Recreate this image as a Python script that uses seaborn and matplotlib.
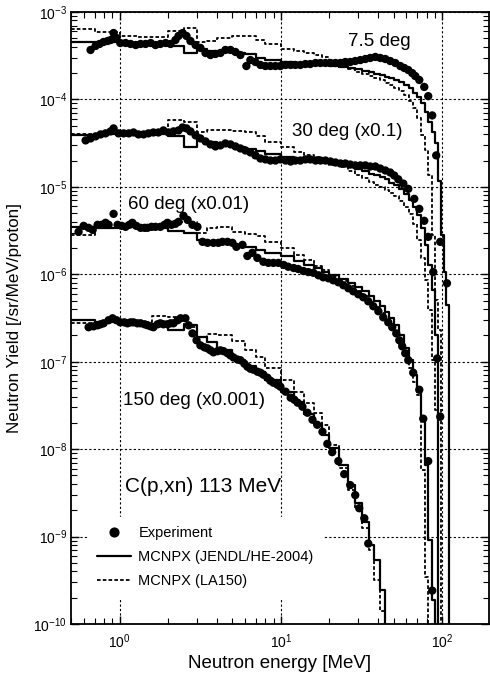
import numpy as np
import pandas as pd
import matplotlib
matplotlib.use('Agg')
import matplotlib.pyplot as plt
from matplotlib.lines import Line2D
from matplotlib.ticker import LogLocator, NullFormatter
import seaborn as sns

# Experiment data (already scaled by the factors shown in the labels)
e_exp_7p5 = [0.661, 0.710, 0.752, 0.796, 0.843, 0.880, 0.918, 0.958, 1.01, 1.09,
             1.17, 1.26, 1.35, 1.45, 1.56, 1.67, 1.79, 1.93, 2.07, 2.22,
             2.32, 2.46, 2.60, 2.75, 2.96, 3.17, 3.41, 3.66, 3.93, 4.22,
             4.53, 4.87, 5.23, 5.61, 6.11, 6.47, 6.95, 7.47, 8.02, 8.61,
             9.25, 9.93, 10.7, 11.5, 12.3, 13.2, 14.2, 15.2, 16.4, 17.6,
             18.9, 20.3, 21.8, 23.4, 25.1, 26.9, 28.9, 31.1, 33.4, 35.8,
             38.5, 41.3, 44.4, 47.6, 51.2, 55.0, 58.2, 61.6, 65.2, 68.1,
             72.1, 77.4, 81.9, 86.7, 91.8, 97.2, 107]
y_exp_7p5 = [3.68e-4, 4.09e-4, 4.31e-4, 4.54e-4, 4.66e-4, 4.78e-4, 5.75e-4, 5.04e-4, 4.42e-4, 4.42e-4,
             4.31e-4, 4.19e-4, 4.31e-4, 4.31e-4, 4.42e-4, 4.19e-4, 4.31e-4, 4.42e-4, 4.31e-4, 4.78e-4,
             5.32e-4, 5.75e-4, 5.32e-4, 4.66e-4, 4.19e-4, 3.88e-4, 3.40e-4, 3.22e-4, 3.31e-4, 3.40e-4,
             3.68e-4, 3.68e-4, 3.49e-4, 3.22e-4, 2.41e-4, 2.82e-4, 2.68e-4, 2.48e-4, 2.41e-4, 2.41e-4,
             2.41e-4, 2.41e-4, 2.48e-4, 2.48e-4, 2.48e-4, 2.48e-4, 2.54e-4, 2.54e-4, 2.61e-4, 2.61e-4,
             2.61e-4, 2.61e-4, 2.61e-4, 2.61e-4, 2.68e-4, 2.68e-4, 2.75e-4, 2.82e-4, 2.90e-4, 2.98e-4,
             3.06e-4, 2.98e-4, 2.90e-4, 2.75e-4, 2.61e-4, 2.41e-4, 2.29e-4, 2.17e-4, 2.00e-4, 1.85e-4,
             1.67e-4, 1.39e-4, 1.09e-4, 6.56e-5, 2.29e-5, 2.35e-6, 7.89e-7]

e_exp_30 = [0.616, 0.661, 0.710, 0.763, 0.819, 0.880, 0.918, 0.986, 1.06, 1.14,
            1.22, 1.31, 1.41, 1.51, 1.62, 1.74, 1.87, 2.01, 2.16, 2.32,
            2.46, 2.60, 2.75, 2.96, 3.17, 3.41, 3.66, 3.93, 4.22, 4.53,
            4.87, 5.23, 5.61, 6.03, 6.47, 6.95, 7.47, 8.02, 8.61, 9.25,
            9.93, 10.7, 11.5, 12.3, 13.2, 14.2, 15.2, 16.4, 17.6, 18.9,
            20.3, 21.8, 23.4, 25.1, 26.9, 28.9, 31.1, 33.4, 35.8, 38.5,
            41.3, 44.4, 47.6, 50.4, 53.4, 57.4, 61.6, 67.1, 72.1, 77.4,
            81.9, 88.0, 93.1, 97.2]
y_exp_30 = [3.40e-5, 3.58e-5, 3.78e-5, 3.98e-5, 4.09e-5, 4.31e-5, 4.66e-5, 4.09e-5, 4.09e-5, 4.09e-5,
            4.19e-5, 3.98e-5, 3.98e-5, 4.09e-5, 4.19e-5, 4.19e-5, 4.42e-5, 4.19e-5, 4.31e-5, 4.42e-5,
            4.78e-5, 4.66e-5, 4.31e-5, 3.88e-5, 3.58e-5, 3.31e-5, 3.06e-5, 2.90e-5, 2.98e-5, 3.14e-5,
            3.06e-5, 2.90e-5, 2.75e-5, 2.61e-5, 2.48e-5, 2.29e-5, 2.11e-5, 2.06e-5, 2.00e-5, 2.00e-5,
            2.06e-5, 2.00e-5, 1.95e-5, 2.00e-5, 2.00e-5, 2.06e-5, 2.06e-5, 2.00e-5, 2.00e-5, 2.00e-5,
            1.95e-5, 1.90e-5, 1.85e-5, 1.85e-5, 1.80e-5, 1.76e-5, 1.76e-5, 1.76e-5, 1.71e-5, 1.71e-5,
            1.62e-5, 1.54e-5, 1.46e-5, 1.35e-5, 1.22e-5, 1.09e-5, 9.49e-6, 7.29e-6, 5.60e-6, 4.09e-6,
            2.68e-6, 1.06e-6, 1.09e-7, 2.35e-8]

e_exp_60 = [0.557, 0.599, 0.643, 0.681, 0.731, 0.774, 0.819, 0.855, 0.918, 0.972,
            1.03, 1.09, 1.15, 1.20, 1.27, 1.35, 1.43, 1.49, 1.58, 1.67,
            1.79, 1.90, 1.98, 2.10, 2.22, 2.32, 2.49, 2.64, 2.83, 3.04,
            3.27, 3.51, 3.82, 4.10, 4.34, 4.67, 5.01, 5.30, 5.78, 6.20,
            6.66, 7.15, 7.79, 8.37, 8.99, 9.65, 10.4, 11.1, 12.0, 12.8,
            13.8, 14.8, 15.9, 17.1, 18.3, 19.7, 21.1, 22.7, 24.4, 26.2,
            28.1, 30.2, 32.4, 34.8, 37.4, 40.2, 43.1, 46.3, 49.0, 51.9,
            54.2, 56.5, 59.0, 61.6, 66.1, 72.1, 76.3, 81.9, 86.7]
y_exp_60 = [3.06e-6, 3.58e-6, 3.40e-6, 3.22e-6, 3.68e-6, 3.68e-6, 3.88e-6, 3.68e-6, 4.91e-6, 3.68e-6,
            3.58e-6, 3.49e-6, 3.68e-6, 3.88e-6, 3.58e-6, 3.40e-6, 3.40e-6, 3.40e-6, 3.49e-6, 3.49e-6,
            3.49e-6, 3.68e-6, 3.88e-6, 3.68e-6, 3.78e-6, 3.98e-6, 4.66e-6, 4.19e-6, 3.68e-6, 3.49e-6,
            2.35e-6, 2.29e-6, 2.29e-6, 2.29e-6, 2.35e-6, 2.35e-6, 2.29e-6, 2.06e-6, 2.17e-6, 1.62e-6,
            1.76e-6, 1.54e-6, 1.39e-6, 1.35e-6, 1.35e-6, 1.35e-6, 1.28e-6, 1.22e-6, 1.18e-6, 1.15e-6,
            1.09e-6, 1.06e-6, 1.04e-6, 9.74e-7, 9.24e-7, 9.00e-7, 8.54e-7, 8.10e-7, 7.49e-7, 6.92e-7,
            6.39e-7, 5.91e-7, 5.46e-7, 4.91e-7, 4.31e-7, 3.78e-7, 3.22e-7, 2.82e-7, 2.48e-7, 2.11e-7,
            1.76e-7, 1.50e-7, 1.25e-7, 1.04e-7, 7.49e-8, 4.78e-8, 2.23e-8, 7.29e-9, 2.41e-10]

e_exp_150 = [0.643, 0.690, 0.731, 0.763, 0.796, 0.855, 0.905, 0.958, 1.01, 1.07,
             1.12, 1.17, 1.22, 1.29, 1.35, 1.43, 1.49, 1.56, 1.62, 1.72,
             1.79, 1.87, 1.98, 2.07, 2.16, 2.29, 2.39, 2.56, 2.68, 2.83,
             3.00, 3.17, 3.36, 3.51, 3.66, 3.82, 4.05, 4.22, 4.41, 4.67,
             4.87, 5.08, 5.38, 5.61, 5.94, 6.20, 6.47, 6.76, 7.15, 7.47,
             7.79, 8.25, 8.61, 8.99, 9.51, 9.93, 10.7, 11.5, 12.1, 12.7,
             13.6, 14.6, 15.7, 16.8, 18.1, 19.4, 20.8, 22.7, 24.7, 26.9,
             28.9, 30.6, 32.9, 34.8]
y_exp_150 = [2.48e-7, 2.54e-7, 2.61e-7, 2.68e-7, 2.75e-7, 2.98e-7, 3.14e-7, 2.98e-7, 2.82e-7, 2.82e-7,
             2.75e-7, 2.82e-7, 2.82e-7, 2.75e-7, 2.75e-7, 2.68e-7, 2.61e-7, 2.54e-7, 2.48e-7, 2.68e-7,
             2.75e-7, 2.68e-7, 2.68e-7, 2.75e-7, 2.75e-7, 2.98e-7, 3.14e-7, 3.14e-7, 2.61e-7, 2.11e-7,
             1.76e-7, 1.54e-7, 1.46e-7, 1.42e-7, 1.35e-7, 1.28e-7, 1.32e-7, 1.35e-7, 1.32e-7, 1.25e-7,
             1.18e-7, 1.12e-7, 1.06e-7, 1.04e-7, 9.49e-8, 8.77e-8, 8.32e-8, 8.10e-8, 7.69e-8, 7.49e-8,
             7.10e-8, 6.56e-8, 6.06e-8, 5.75e-8, 5.46e-8, 5.18e-8, 4.54e-8, 3.88e-8, 3.68e-8, 3.40e-8,
             3.06e-8, 2.61e-8, 2.17e-8, 1.90e-8, 1.58e-8, 1.15e-8, 9.24e-9, 7.29e-9, 5.18e-9, 3.88e-9,
             2.98e-9, 2.11e-9, 1.62e-9, 8.32e-10]

# MCNPX histograms: bin edges [MeV] and one value per bin (0 = no yield)
e_edges = [0.5, 0.7, 1.0, 1.3, 1.6, 2.0, 2.5, 3.0, 3.5, 4, 5, 6, 7, 8, 10, 12, 14, 16, 18, 20,
           23, 26, 29, 32, 35, 38, 41, 44, 47, 50, 54, 58, 62, 66, 70, 74, 78, 82, 86, 90,
           94, 98, 102, 106, 110, 114]

jendl_7p5 = [4.54e-4, 4.54e-4, 4.42e-4, 4.31e-4, 4.19e-4, 4.09e-4, 3.40e-4, 3.78e-4, 3.58e-4, 3.49e-4,
             3.40e-4, 3.31e-4, 2.98e-4, 2.82e-4, 2.68e-4, 2.61e-4, 2.54e-4, 2.54e-4, 2.48e-4, 2.41e-4,
             2.35e-4, 2.29e-4, 2.23e-4, 2.11e-4, 2.06e-4, 1.95e-4, 1.90e-4, 1.80e-4, 1.76e-4, 1.67e-4,
             1.58e-4, 1.46e-4, 1.35e-4, 1.18e-4, 1.06e-4, 9.0e-5, 7.10e-5, 5.46e-5, 4.19e-5, 3.14e-5,
             1.18e-5, 2.82e-6, 1.06e-6, 4.42e-7, 0]
la150_7p5 = [6.39e-4, 5.91e-4, 5.32e-4, 5.18e-4, 5.18e-4, 6.06e-4, 6.56e-4, 4.54e-4, 4.66e-4, 5.04e-4,
             5.32e-4, 5.32e-4, 4.78e-4, 4.31e-4, 3.78e-4, 3.58e-4, 3.40e-4, 3.22e-4, 3.06e-4, 2.68e-4,
             2.41e-4, 2.23e-4, 2.06e-4, 1.95e-4, 1.85e-4, 1.76e-4, 1.67e-4, 1.54e-4, 1.46e-4, 1.35e-4,
             1.25e-4, 1.12e-4, 9.49e-5, 7.89e-5, 6.06e-5, 3.88e-5, 2.61e-5, 1.35e-5, 2.82e-6, 5.04e-7,
             2.29e-7, 0, 0, 0, 0]

jendl_30 = [3.88e-5, 3.98e-5, 3.98e-5, 3.98e-5, 3.98e-5, 3.78e-5, 2.82e-5, 3.40e-5, 3.22e-5, 3.06e-5,
            2.82e-5, 2.68e-5, 2.54e-5, 2.35e-5, 2.17e-5, 2.11e-5, 2.00e-5, 1.95e-5, 1.90e-5, 1.85e-5,
            1.76e-5, 1.67e-5, 1.58e-5, 1.50e-5, 1.42e-5, 1.35e-5, 1.28e-5, 1.22e-5, 1.12e-5, 1.04e-5,
            9.49e-6, 8.32e-6, 7.10e-6, 5.91e-6, 4.78e-6, 3.40e-6, 2.17e-6, 1.28e-6, 6.56e-7, 2.00e-7,
            0, 0, 0, 0, 0]
la150_30 = [3.98e-5, 3.98e-5, 4.19e-5, 4.19e-5, 4.42e-5, 5.75e-5, 5.46e-5, 4.19e-5, 4.42e-5, 4.42e-5,
            4.31e-5, 4.19e-5, 3.78e-5, 3.22e-5, 2.82e-5, 2.48e-5, 2.29e-5, 2.17e-5, 2.00e-5, 1.80e-5,
            1.67e-5, 1.50e-5, 1.35e-5, 1.25e-5, 1.15e-5, 1.06e-5, 1.00e-5, 9.24e-6, 8.54e-6, 7.89e-6,
            6.92e-6, 5.91e-6, 4.91e-6, 3.78e-6, 2.48e-6, 1.54e-6, 8.54e-7, 3.88e-7, 1.04e-7, 2.82e-8,
            0, 0, 0, 0, 0]

jendl_60 = [3.49e-6, 3.40e-6, 3.49e-6, 3.49e-6, 3.40e-6, 3.14e-6, 2.98e-6, 2.48e-6, 2.41e-6, 2.35e-6,
            2.17e-6, 2.06e-6, 1.90e-6, 1.76e-6, 1.62e-6, 1.42e-6, 1.28e-6, 1.18e-6, 1.06e-6, 9.74e-7,
            8.77e-7, 7.89e-7, 7.10e-7, 6.39e-7, 5.60e-7, 4.91e-7, 4.31e-7, 3.68e-7, 3.14e-7, 2.61e-7,
            2.00e-7, 1.42e-7, 1.04e-7, 7.10e-8, 4.54e-8, 2.17e-8, 6.56e-9, 9.24e-10, 1.90e-10, 0,
            0, 0, 0, 0, 0]
la150_60 = [2.82e-6, 3.40e-6, 3.58e-6, 3.58e-6, 3.78e-6, 3.98e-6, 3.98e-6, 2.98e-6, 3.40e-6, 3.49e-6,
            3.06e-6, 2.90e-6, 2.75e-6, 2.35e-6, 2.00e-6, 1.67e-6, 1.46e-6, 1.25e-6, 1.12e-6, 9.49e-7,
            8.32e-7, 7.29e-7, 6.39e-7, 5.60e-7, 4.78e-7, 4.19e-7, 3.58e-7, 3.06e-7, 2.54e-7, 2.06e-7,
            1.58e-7, 1.15e-7, 8.54e-8, 5.91e-8, 4.19e-8, 5.75e-9, 3.49e-10, 0, 0, 0,
            0, 0, 0, 0, 0]

jendl_150 = [2.98e-7, 2.82e-7, 2.68e-7, 2.61e-7, 2.68e-7, 2.29e-7, 2.61e-7, 1.90e-7, 1.67e-7, 1.35e-7,
             1.04e-7, 9.00e-8, 7.69e-8, 6.22e-8, 4.54e-8, 3.49e-8, 2.54e-8, 1.95e-8, 1.46e-8, 1.04e-8,
             6.56e-9, 3.88e-9, 2.41e-9, 1.46e-9, 8.10e-10, 5.46e-10, 2.48e-10, 0, 0, 0,
             0, 0, 0, 0, 0, 0, 0, 0, 0, 0,
             0, 0, 0, 0, 0]
la150_150 = [2.75e-7, 2.82e-7, 2.82e-7, 2.82e-7, 3.31e-7, 3.22e-7, 2.48e-7, 1.90e-7, 2.06e-7, 2.00e-7,
             1.71e-7, 1.35e-7, 1.12e-7, 8.54e-8, 6.22e-8, 4.54e-8, 3.40e-8, 2.61e-8, 1.90e-8, 1.12e-8,
             6.06e-9, 3.40e-9, 2.11e-9, 1.25e-9, 7.10e-10, 3.22e-10, 1.39e-10, 0, 0, 0,
             0, 0, 0, 0, 0, 0, 0, 0, 0, 0,
             0, 0, 0, 0, 0]

sns.set_style('ticks')
plt.rcParams['font.family'] = ['Liberation Sans', 'DejaVu Sans']
plt.rcParams['mathtext.fontset'] = 'custom'
plt.rcParams['mathtext.rm'] = 'Liberation Sans'
plt.rcParams['mathtext.it'] = 'Liberation Sans:italic'
plt.rcParams['text.color'] = 'black'
plt.rcParams['axes.labelcolor'] = 'black'
plt.rcParams['xtick.color'] = 'black'
plt.rcParams['ytick.color'] = 'black'

fig = plt.figure(figsize=(4.9, 6.8), dpi=100)
ax = fig.add_axes([71 / 490, 56 / 680, 418 / 490, 612 / 680])

dotted = (0, (2, 1.2))


def hist_frame(vals):
    # steps-post needs one value per edge; empty bins fall below the axis
    y = np.clip(np.array(vals + [vals[-1]], dtype=float), 1e-14, None)
    return pd.DataFrame({'energy': e_edges, 'yield': y})


for vals in [la150_7p5, la150_30, la150_60, la150_150]:
    sns.lineplot(data=hist_frame(vals), x='energy', y='yield', drawstyle='steps-post',
                 color='black', linewidth=1.3, linestyle=dotted, estimator=None,
                 sort=False, ax=ax, zorder=2)
for vals in [jendl_7p5, jendl_30, jendl_60, jendl_150]:
    sns.lineplot(data=hist_frame(vals), x='energy', y='yield', drawstyle='steps-post',
                 color='black', linewidth=1.6, estimator=None, sort=False, ax=ax, zorder=2)

for e, y in [(e_exp_7p5, y_exp_7p5), (e_exp_30, y_exp_30),
             (e_exp_60, y_exp_60), (e_exp_150, y_exp_150)]:
    sns.scatterplot(x=e, y=y, color='black', s=36, edgecolor='none', ax=ax,
                    legend=False, zorder=3)

ax.set_xscale('log')
ax.set_yscale('log')
ax.set_xlim(0.5, 195)
ax.set_ylim(1e-10, 1e-3)

ax.xaxis.set_major_locator(LogLocator(base=10, numticks=20))
ax.yaxis.set_major_locator(LogLocator(base=10, numticks=20))
ax.xaxis.set_minor_locator(LogLocator(base=10, subs=np.arange(2, 10), numticks=100))
ax.yaxis.set_minor_locator(LogLocator(base=10, subs=np.arange(2, 10), numticks=100))
ax.xaxis.set_minor_formatter(NullFormatter())
ax.yaxis.set_minor_formatter(NullFormatter())

ax.tick_params(which='both', direction='in', top=True, right=True, colors='black',
               labelsize=10)
ax.tick_params(which='major', length=6, width=1.0)
ax.tick_params(which='minor', length=4, width=0.8)
ax.tick_params(axis='x', which='major', pad=6)
ax.tick_params(axis='y', which='major', pad=3)

ax.grid(which='major', color='black', linestyle=(0, (2, 2)), linewidth=0.8)
ax.grid(which='minor', visible=False)
for sp in ax.spines.values():
    sp.set_linewidth(1.3)
    sp.set_color('black')

ax.set_xlabel('Neutron energy [MeV]', fontsize=13.5, labelpad=3)
ax.set_ylabel('Neutron Yield [/sr/MeV/proton]', fontsize=12.3, labelpad=8)

ax.text(0.663, 0.951, '7.5 deg', transform=ax.transAxes, fontsize=13.5, va='center')
ax.text(0.529, 0.804, '30 deg (x0.1)', transform=ax.transAxes, fontsize=13.5, va='center')
ax.text(0.136, 0.686, '60 deg (x0.01)', transform=ax.transAxes, fontsize=13.5, va='center')
ax.text(0.124, 0.366, '150 deg (x0.001)', transform=ax.transAxes, fontsize=13.5, va='center')
ax.text(0.129, 0.224, 'C(p,xn) 113 MeV', transform=ax.transAxes, fontsize=15, va='center')

handles = [Line2D([], [], marker='o', color='black', linestyle='none', markersize=6.3),
           Line2D([], [], color='black', linewidth=1.6),
           Line2D([], [], color='black', linewidth=1.3, linestyle=dotted)]
labels = ['Experiment', 'MCNPX (JENDL/HE-2004)', 'MCNPX (LA150)']
leg = ax.legend(handles, labels, loc='upper left', bbox_to_anchor=(0.041, 0.175),
                borderaxespad=0, frameon=True, facecolor='white', edgecolor='white',
                framealpha=1, fancybox=False, fontsize=10.5, handlelength=2.35,
                handletextpad=0.5, borderpad=0.6, labelspacing=0.7)

fig.savefig('out.png', dpi=100)
